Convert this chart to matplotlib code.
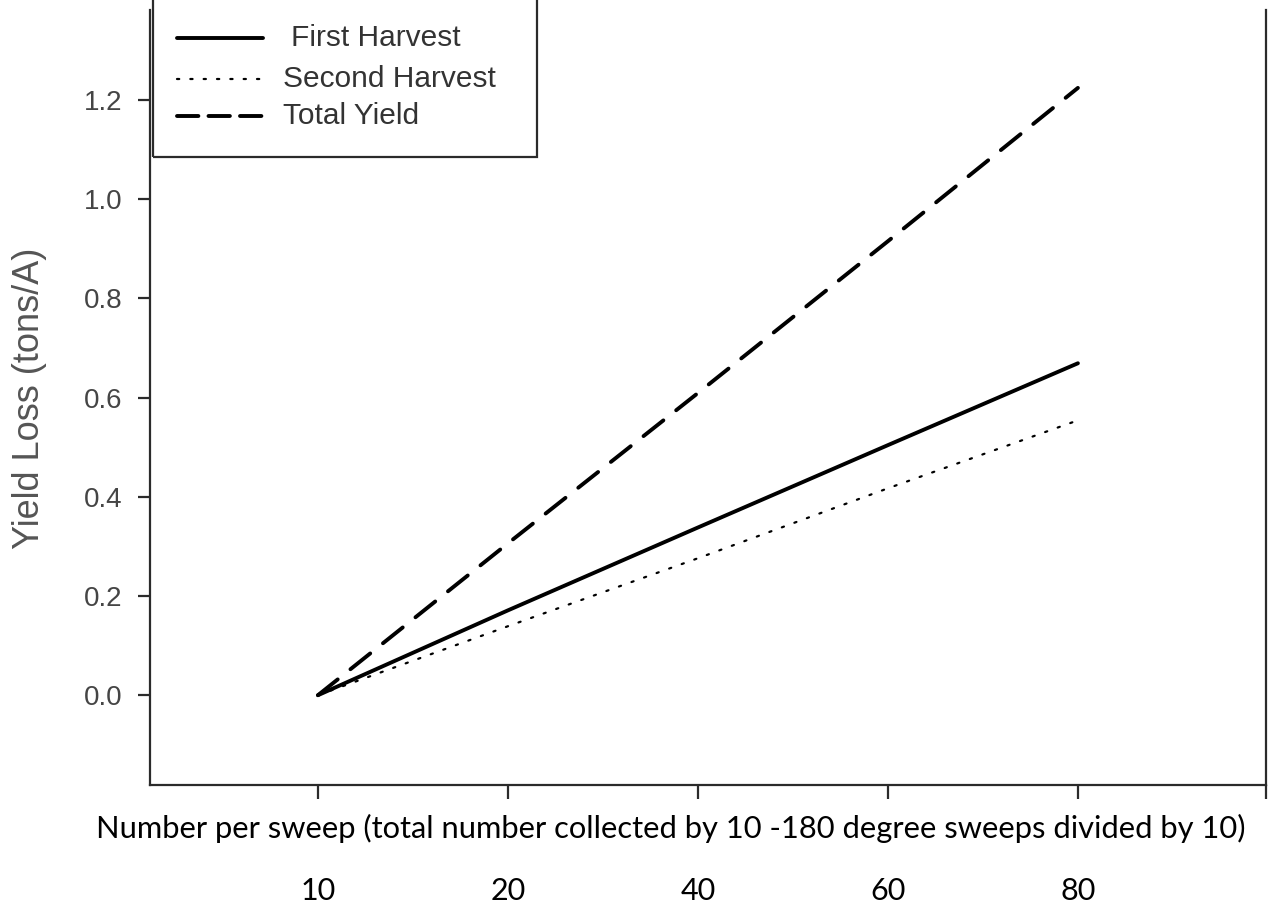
import matplotlib
matplotlib.use("Agg")
import matplotlib.pyplot as plt
from matplotlib.lines import Line2D
from matplotlib.patches import Rectangle

# Sweep-count categories on the x axis
sweep_labels = ["10", "20", "40", "60", "80"]
sweep_pos = [0, 1, 2, 3, 4]

# Yield loss (tons/A) by harvest
first_harvest = [0.0, 0.171, 0.338, 0.504, 0.669]
second_harvest = [0.0, 0.139, 0.276, 0.417, 0.554]
total_yield = [0.0, 0.306, 0.609, 0.915, 1.224]

y_ticks = [0.0, 0.2, 0.4, 0.6, 0.8, 1.0, 1.2]

W, H = 1268, 909
fig = plt.figure(figsize=(W / 100, H / 100), dpi=100)
fig.patch.set_facecolor("white")

# axes frame in pixels: left 150, right 1266, bottom 785, top 10
L, R, B, T = 150, 1266, 785, 10
ax = fig.add_axes([L / W, (H - B) / H, (R - L) / W, (B - T) / H])

spine_col = "#2b2b2b"
tick_col = "#454545"
arial = ["Liberation Sans", "DejaVu Sans"]
calibri_like = ["Lato", "DejaVu Sans"]

solid_style = dict(lw=2.8, linestyle="-")
dotted_style = dict(lw=1.6, linestyle=(0, (1, 5.0)))
dashed_style = dict(lw=2.8, linestyle=(0, (6.5, 4.2)))
dashed_key_style = dict(lw=2.8, linestyle=(0, (5.5, 2.6)))

ax.plot(sweep_pos, first_harvest, color="black", solid_capstyle="round", **solid_style)
ax.plot(sweep_pos, second_harvest, color="black", dash_capstyle="round", **dotted_style)
ax.plot(sweep_pos, total_yield, color="black", dash_capstyle="round", **dashed_style)

ax.set_xlim(-0.884, 4.99)
ax.set_ylim(-0.181, 1.381)

for side in ["left", "bottom", "right"]:
    ax.spines[side].set_color(spine_col)
    ax.spines[side].set_linewidth(1.6)
ax.spines["top"].set_visible(False)

ax.set_yticks(y_ticks)
ax.set_yticklabels([f"{v:.1f}" for v in y_ticks], fontfamily=arial,
                   fontsize=20, color=tick_col)
ax.tick_params(axis="y", direction="out", length=9, width=1.6,
               color=spine_col, pad=11)

ax.set_xticks(sweep_pos + [4.99])
ax.set_xticklabels(sweep_labels + [""], fontfamily=calibri_like,
                   fontsize=22, color="black")
ax.tick_params(axis="x", direction="out", length=10, width=1.6,
               color=spine_col, pad=56)

ax.set_xlabel("Number per sweep (total number collected by 10 -180 degree sweeps divided by 10)",
              fontfamily=calibri_like, fontsize=22.2, color="black")
ax.xaxis.set_label_coords((671 - L) / (R - L), -(828 - B) / (B - T))
ax.xaxis.label.set_va("center")

ax.set_ylabel("Yield Loss (tons/A)", fontfamily=arial, fontsize=26, color="#555555")
ax.yaxis.set_label_coords(-(L - 30) / (R - L), (B - 398) / (B - T))
ax.yaxis.label.set_va("center")

# legend box drawn in figure pixels
def fx(px):
    return px / W

def fy(py):
    return (H - py) / H

fig.patches.append(Rectangle((fx(153), fy(157)), fx(537) - fx(153), fy(-60) - fy(157),
                             transform=fig.transFigure, fill=False,
                             edgecolor=spine_col, lw=1.6, zorder=5))
leg_items = [
    ("First Harvest", solid_style, 38, 291, 263),
    ("Second Harvest", dotted_style, 79, 283, 263),
    ("Total Yield", dashed_key_style, 116, 283, 262),
]
for text, style, py, tx, x_end in leg_items:
    fig.lines.append(Line2D([fx(177), fx(x_end)], [fy(py), fy(py)], color="black",
                            transform=fig.transFigure, dash_capstyle="round",
                            solid_capstyle="round", **style))
    fig.text(fx(tx), fy(py), text, fontfamily=arial, fontsize=21.5,
             color="#333333", va="center", ha="left")

fig.savefig("out.png", dpi=100, facecolor="white")
